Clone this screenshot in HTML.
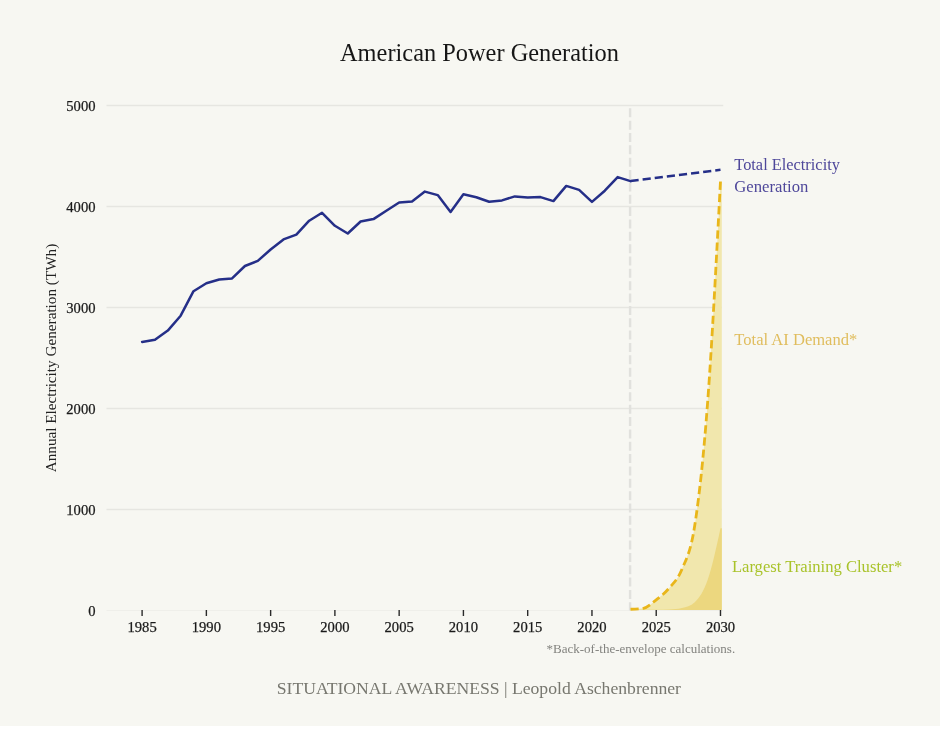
<!DOCTYPE html>
<html><head><meta charset="utf-8"><style>
html,body{margin:0;padding:0;background:#fff;}
body{width:940px;height:738px;overflow:hidden;}
svg{display:block;will-change:transform;}
text{font-family:"Liberation Serif",serif;}
.tk{font-size:14.6px;fill:#1a1a1a;stroke:#1a1a1a;stroke-width:0.25px;}
</style></head><body>
<svg width="940" height="738" viewBox="0 0 940 738">
<rect x="0" y="0" width="940" height="726" fill="#f7f7f2"/>
<text x="479.5" y="61.3" text-anchor="middle" font-size="25.2" fill="#161616" textLength="279" lengthAdjust="spacingAndGlyphs">American Power Generation</text>
<line x1="106.5" x2="721.8" y1="509.50" y2="509.50" stroke="#e6e6e1" stroke-width="1.3"/>
<line x1="106.5" x2="721.8" y1="408.50" y2="408.50" stroke="#e6e6e1" stroke-width="1.3"/>
<line x1="106.5" x2="721.8" y1="307.50" y2="307.50" stroke="#e6e6e1" stroke-width="1.3"/>
<line x1="106.5" x2="721.8" y1="206.50" y2="206.50" stroke="#e6e6e1" stroke-width="1.3"/>
<line x1="106.5" x2="723.2" y1="105.50" y2="105.50" stroke="#e6e6e1" stroke-width="1.3"/>
<line x1="106.5" x2="723.2" y1="610.50" y2="610.50" stroke="#efefea" stroke-width="1"/>

<path d="M630.51,609.24C634.80,609.09,639.08,608.93,643.37,608.31C647.65,607.69,651.94,603.15,656.22,599.80C660.50,596.45,664.79,593.31,669.07,588.22C673.36,583.13,677.64,579.77,681.93,569.28C686.21,558.79,690.49,553.10,694.78,525.27C699.06,497.44,703.35,459.71,707.63,402.32C711.92,344.93,716.20,262.94,720.49,180.95 L721.80,180.95 L721.80,610 L630.51,610Z" fill="#f1e7ad"/>
<path d="M630.51,609.90C634.80,609.88,639.08,609.87,643.37,609.85C647.65,609.83,651.94,609.83,656.22,609.80C660.50,609.77,664.79,609.71,669.07,609.53C673.36,609.35,677.64,609.02,681.93,608.00C686.21,606.98,690.49,606.04,694.78,602.13C699.06,598.22,703.35,592.41,707.63,580.11C711.92,567.82,716.20,548.09,720.49,528.36 L721.80,528.36 L721.80,610 L630.51,610Z" fill="#ecd77f"/>
<line x1="630.1" x2="630.1" y1="108.3" y2="610.5" stroke="#e1e1dd" stroke-width="2.4" stroke-dasharray="9,3.35"/>
<path d="M142.10,341.90 L154.95,339.80 L167.81,330.60 L180.66,315.70 L193.51,291.20 L206.37,283.20 L219.22,279.50 L232.07,278.40 L244.92,266.00 L257.78,260.90 L270.63,249.50 L283.48,239.40 L296.34,234.60 L309.19,220.70 L322.04,212.80 L334.89,225.80 L347.75,233.50 L360.60,221.50 L373.45,219.10 L386.31,210.70 L399.16,202.50 L412.01,201.50 L424.87,191.60 L437.72,195.10 L450.57,211.90 L463.42,194.30 L476.28,197.20 L489.13,201.80 L501.98,200.40 L514.84,196.40 L527.69,197.50 L540.54,197.10 L553.40,201.10 L566.25,185.90 L579.10,189.90 L591.96,201.90 L604.81,190.70 L617.66,177.10 L630.51,181.10" fill="none" stroke="#252f88" stroke-width="2.5" stroke-linejoin="round" stroke-linecap="round"/>
<path d="M630.51,181.10 L720.49,169.80" fill="none" stroke="#252f88" stroke-width="2.5" stroke-dasharray="8.2,4.0"/>
<path d="M630.51,609.24C634.80,609.09,639.08,608.93,643.37,608.31C647.65,607.69,651.94,603.15,656.22,599.80C660.50,596.45,664.79,593.31,669.07,588.22C673.36,583.13,677.64,579.77,681.93,569.28C686.21,558.79,690.49,553.10,694.78,525.27C699.06,497.44,703.35,459.71,707.63,402.32C711.92,344.93,716.20,262.94,720.49,180.95" fill="none" stroke="#e9b61a" stroke-width="2.8" stroke-dasharray="8.2,4.0"/>
<text x="95.5" y="615.50" text-anchor="end" class="tk">0</text>
<text x="95.5" y="514.50" text-anchor="end" class="tk">1000</text>
<text x="95.5" y="413.50" text-anchor="end" class="tk">2000</text>
<text x="95.5" y="312.50" text-anchor="end" class="tk">3000</text>
<text x="95.5" y="211.50" text-anchor="end" class="tk">4000</text>
<text x="95.5" y="110.50" text-anchor="end" class="tk">5000</text>

<line x1="142.10" x2="142.10" y1="610" y2="616" stroke="#2a2a2a" stroke-width="1.4"/>
<text x="142.10" y="632.2" text-anchor="middle" class="tk">1985</text>
<line x1="206.37" x2="206.37" y1="610" y2="616" stroke="#2a2a2a" stroke-width="1.4"/>
<text x="206.37" y="632.2" text-anchor="middle" class="tk">1990</text>
<line x1="270.63" x2="270.63" y1="610" y2="616" stroke="#2a2a2a" stroke-width="1.4"/>
<text x="270.63" y="632.2" text-anchor="middle" class="tk">1995</text>
<line x1="334.89" x2="334.89" y1="610" y2="616" stroke="#2a2a2a" stroke-width="1.4"/>
<text x="334.89" y="632.2" text-anchor="middle" class="tk">2000</text>
<line x1="399.16" x2="399.16" y1="610" y2="616" stroke="#2a2a2a" stroke-width="1.4"/>
<text x="399.16" y="632.2" text-anchor="middle" class="tk">2005</text>
<line x1="463.42" x2="463.42" y1="610" y2="616" stroke="#2a2a2a" stroke-width="1.4"/>
<text x="463.42" y="632.2" text-anchor="middle" class="tk">2010</text>
<line x1="527.69" x2="527.69" y1="610" y2="616" stroke="#2a2a2a" stroke-width="1.4"/>
<text x="527.69" y="632.2" text-anchor="middle" class="tk">2015</text>
<line x1="591.96" x2="591.96" y1="610" y2="616" stroke="#2a2a2a" stroke-width="1.4"/>
<text x="591.96" y="632.2" text-anchor="middle" class="tk">2020</text>
<line x1="656.22" x2="656.22" y1="610" y2="616" stroke="#2a2a2a" stroke-width="1.4"/>
<text x="656.22" y="632.2" text-anchor="middle" class="tk">2025</text>
<line x1="720.49" x2="720.49" y1="610" y2="616" stroke="#2a2a2a" stroke-width="1.4"/>
<text x="720.49" y="632.2" text-anchor="middle" class="tk">2030</text>

<text transform="translate(56.2,358) rotate(-90)" text-anchor="middle" font-size="14.8" fill="#222" textLength="228.5" lengthAdjust="spacingAndGlyphs">Annual Electricity Generation (TWh)</text>
<text x="734.3" y="169.8" font-size="16" fill="#4e479a" textLength="105.6" lengthAdjust="spacingAndGlyphs">Total Electricity</text>
<text x="734.3" y="191.6" font-size="16" fill="#4e479a" textLength="74" lengthAdjust="spacingAndGlyphs">Generation</text>
<text x="734.3" y="344.9" font-size="16" fill="#e0bd5e" textLength="123" lengthAdjust="spacingAndGlyphs">Total AI Demand*</text>
<text x="731.9" y="572.4" font-size="16" fill="#a9c32b" textLength="170.3" lengthAdjust="spacingAndGlyphs">Largest Training Cluster*</text>
<text x="735.2" y="653.2" text-anchor="end" font-size="12.3" fill="#83837f" textLength="188.7" lengthAdjust="spacingAndGlyphs">*Back-of-the-envelope calculations.</text>
<text x="276.7" y="694" font-size="17" fill="#77776f" textLength="404.3" lengthAdjust="spacingAndGlyphs">SITUATIONAL AWARENESS | Leopold Aschenbrenner</text>
</svg>
</body></html>
